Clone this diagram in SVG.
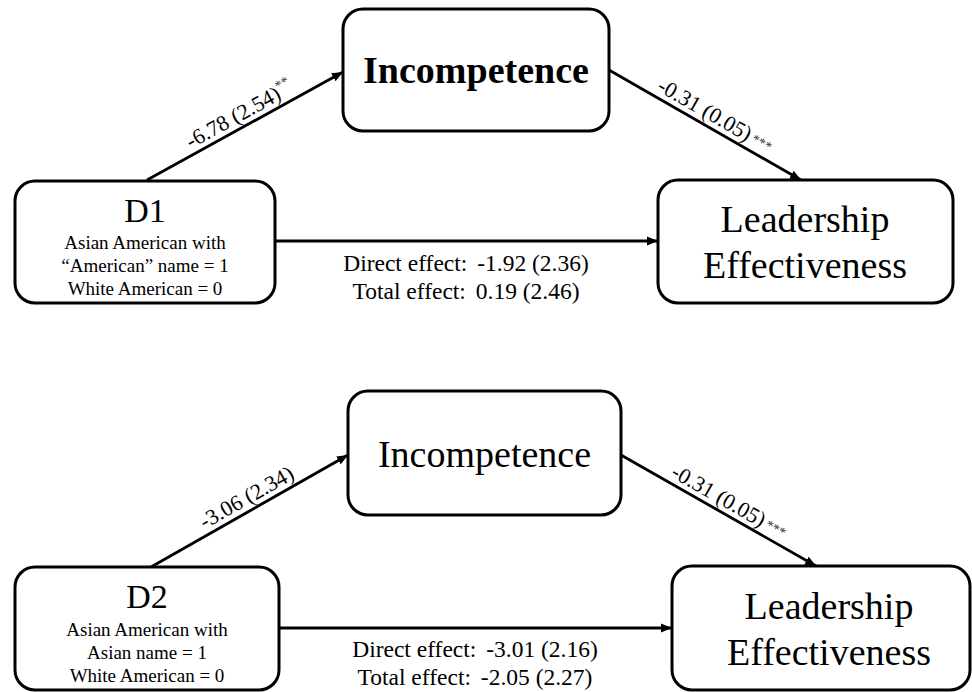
<svg xmlns="http://www.w3.org/2000/svg" width="972" height="692" viewBox="0 0 972 692">
<style>
text{font-family:"Liberation Serif","Tinos","Times New Roman","DejaVu Serif","Noto Serif",serif;fill:#000}
.box{fill:#fff;stroke:#000;stroke-width:3}
.big{font-size:38px;text-anchor:middle}
.bold{font-weight:bold}
.dv{font-size:34px;text-anchor:middle}
.sub{font-size:19px;text-anchor:middle}
.lab{font-size:22px;text-anchor:middle}
.eff{font-size:23.5px;text-anchor:middle}
.star{font-size:14px;fill:#333}
.con{stroke:#000;stroke-width:2.8;fill:none;marker-end:url(#ah)}
</style>
<defs>
<marker id="ah" markerUnits="userSpaceOnUse" markerWidth="12" markerHeight="10" refX="11" refY="5" orient="auto">
<path d="M0,0.5 L11,5 L0,9.5 Z" fill="#000"/>
</marker>
</defs>
<rect width="972" height="692" fill="#fff"/>

<g id="connectors">
<line class="con" x1="147" y1="180" x2="343" y2="72"/>
<line class="con" x1="609" y1="70" x2="801" y2="180"/>
<line class="con" x1="275" y1="241" x2="658" y2="241"/>
<line class="con" x1="151" y1="567" x2="348" y2="455"/>
<line class="con" x1="621" y1="455" x2="816" y2="566"/>
<line class="con" x1="279" y1="628" x2="672" y2="628"/>
</g>

<g id="labels">
<text class="lab" transform="translate(245.6,125.6) rotate(-28.86)" y="-6">-6.78 (2.54)<tspan class="star" dy="-9">**</tspan></text>
<text class="lab" transform="translate(708.8,127.1) rotate(29.8)" y="-6">-0.31 (0.05)<tspan class="star" dx="3" dy="-2">***</tspan></text>
<text class="eff" x="466" y="271">Direct effect:<tspan dx="4"> -1.92 (2.36)</tspan></text>
<text class="eff" x="466" y="299">Total effect:<tspan dx="4"> 0.19 (2.46)</tspan></text>
<text class="lab" transform="translate(253,508.8) rotate(-29.5)" y="-6">-3.06 (2.34)</text>
<text class="lab" transform="translate(722.7,513) rotate(29.65)" y="-6">-0.31 (0.05)<tspan class="star" dx="3" dy="-2">***</tspan></text>
<text class="eff" x="475" y="657">Direct effect:<tspan dx="4"> -3.01 (2.16)</tspan></text>
<text class="eff" x="475" y="685">Total effect:<tspan dx="4"> -2.05 (2.27)</tspan></text>
</g>

<g id="incompetence1">
<rect class="box" x="343" y="9" width="266" height="122" rx="20"/>
<text class="big bold" x="476" y="83">Incompetence</text>
</g>
<g id="d1">
<rect class="box" x="15" y="181" width="260" height="122" rx="20"/>
<text class="dv" x="145" y="222">D1</text>
<text class="sub" x="145" y="249">Asian American with</text>
<text class="sub" x="145" y="272">“American” name = 1</text>
<text class="sub" x="145" y="295">White American = 0</text>
</g>
<g id="leadership1">
<rect class="box" x="658" y="180" width="295" height="123" rx="20"/>
<text class="big" x="805" y="232">Leadership</text>
<text class="big" x="805" y="278">Effectiveness</text>
</g>

<g id="incompetence2">
<rect class="box" x="348" y="391" width="273" height="124" rx="20"/>
<text class="big" x="484.5" y="467">Incompetence</text>
</g>
<g id="d2">
<rect class="box" x="15" y="567" width="264" height="123" rx="20"/>
<text class="dv" x="147" y="608">D2</text>
<text class="sub" x="147" y="636">Asian American with</text>
<text class="sub" x="147" y="659">Asian name = 1</text>
<text class="sub" x="147" y="682">White American = 0</text>
</g>
<g id="leadership2">
<rect class="box" x="672" y="566" width="298" height="124" rx="20"/>
<text class="big" x="829" y="619">Leadership</text>
<text class="big" x="829" y="665">Effectiveness</text>
</g>
</svg>
